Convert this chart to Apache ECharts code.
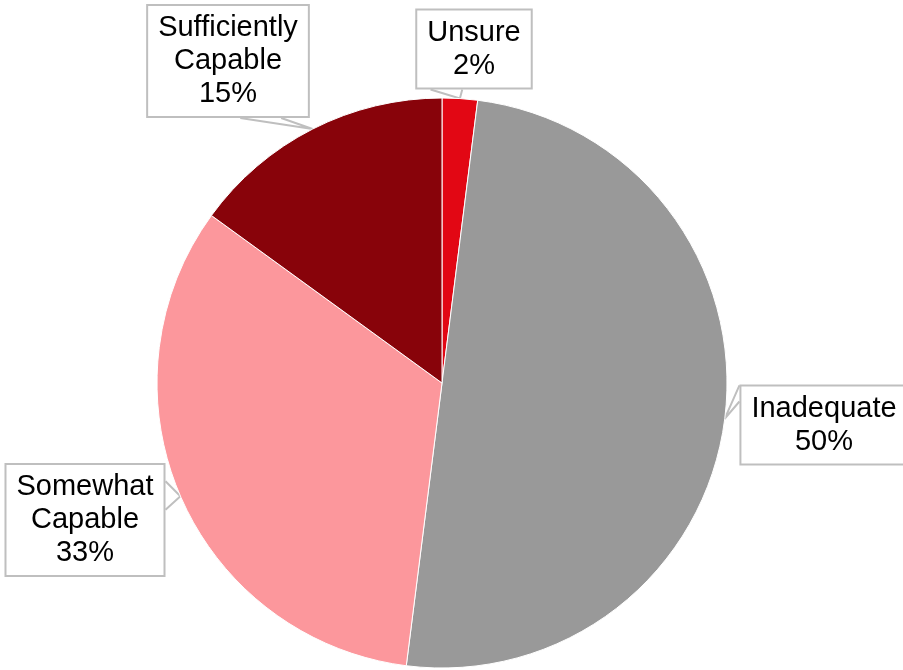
<!DOCTYPE html>
<html>
<head>
<meta charset="utf-8">
<script src="https://cdn.jsdelivr.net/npm/echarts@6/dist/echarts.min.js"></script>
<style>
  html, body { margin: 0; padding: 0; background: #ffffff; }
  #chart { width: 903px; height: 670px; }
</style>
</head>
<body>
<div id="chart"></div>
<script>
// Survey responses, clockwise from 12 o'clock
const categories = ['Unsure', 'Inadequate', 'Somewhat\nCapable', 'Sufficiently\nCapable'];
const shares = [2, 50, 33, 15];
const sliceColors = ['#E20714', '#999999', '#FC979C', '#88030A'];

// Callout boxes: centre (px) and the edge the pointer leaves from,
// with the pointer's two base points given as fractions along that edge
const calloutCentres = [
  [474, 49],
  [824, 425],
  [85, 520],
  [228, 61]
];
const calloutPointers = [
  { side: 'bottom', from: 0.13, to: 0.40 },
  { side: 'left',   from: 0.01, to: 0.21 },
  { side: 'right',  from: 0.16, to: 0.41 },
  { side: 'bottom', from: 0.575, to: 0.825 }
];

function edgePoint(box, side, t) {
  switch (side) {
    case 'bottom': return [box.x + box.width * t, box.y + box.height];
    case 'top':    return [box.x + box.width * t, box.y];
    case 'left':   return [box.x, box.y + box.height * t];
    default:       return [box.x + box.width, box.y + box.height * t];
  }
}

const chart = echarts.init(document.getElementById('chart'), null, { renderer: 'canvas' });

chart.setOption({
  animation: false,
  backgroundColor: '#ffffff',
  series: [{
    type: 'pie',
    center: [442, 383],
    radius: 285,
    startAngle: 90,
    clockwise: true,
    avoidLabelOverlap: false,
    data: categories.map((name, i) => ({
      name: name,
      value: shares[i],
      itemStyle: { color: sliceColors[i] }
    })),
    itemStyle: { borderColor: '#ffffff', borderWidth: 1 },
    label: {
      show: true,
      position: 'outside',
      formatter: p => p.name + '\n' + p.value + '%',
      fontFamily: 'Liberation Sans, Arial, sans-serif',
      fontSize: 29,
      lineHeight: 33,
      color: '#000000',
      align: 'center',
      backgroundColor: '#ffffff',
      borderColor: '#BFBFBF',
      borderWidth: 2,
      padding: [9, 10, 2, 10]
    },
    labelLine: {
      show: true,
      length: 10,
      length2: 10,
      lineStyle: { color: '#BFBFBF', width: 2 }
    },
    labelLayout: function (params) {
      const i = params.dataIndex;
      const c = calloutCentres[i];
      const w = params.labelRect.width;
      const h = params.labelRect.height;
      const box = { x: c[0] - w / 2, y: c[1] - h / 2, width: w, height: h };
      const ptr = calloutPointers[i];
      const tip = params.labelLinePoints ? params.labelLinePoints[0] : null;
      const out = {
        x: c[0],
        y: c[1],
        align: 'center',
        verticalAlign: 'middle',
        moveOverlap: false
      };
      if (tip) {
        out.labelLinePoints = [
          edgePoint(box, ptr.side, ptr.from),
          [tip[0], tip[1]],
          edgePoint(box, ptr.side, ptr.to)
        ];
      }
      return out;
    }
  }]
});
</script>
</body>
</html>
